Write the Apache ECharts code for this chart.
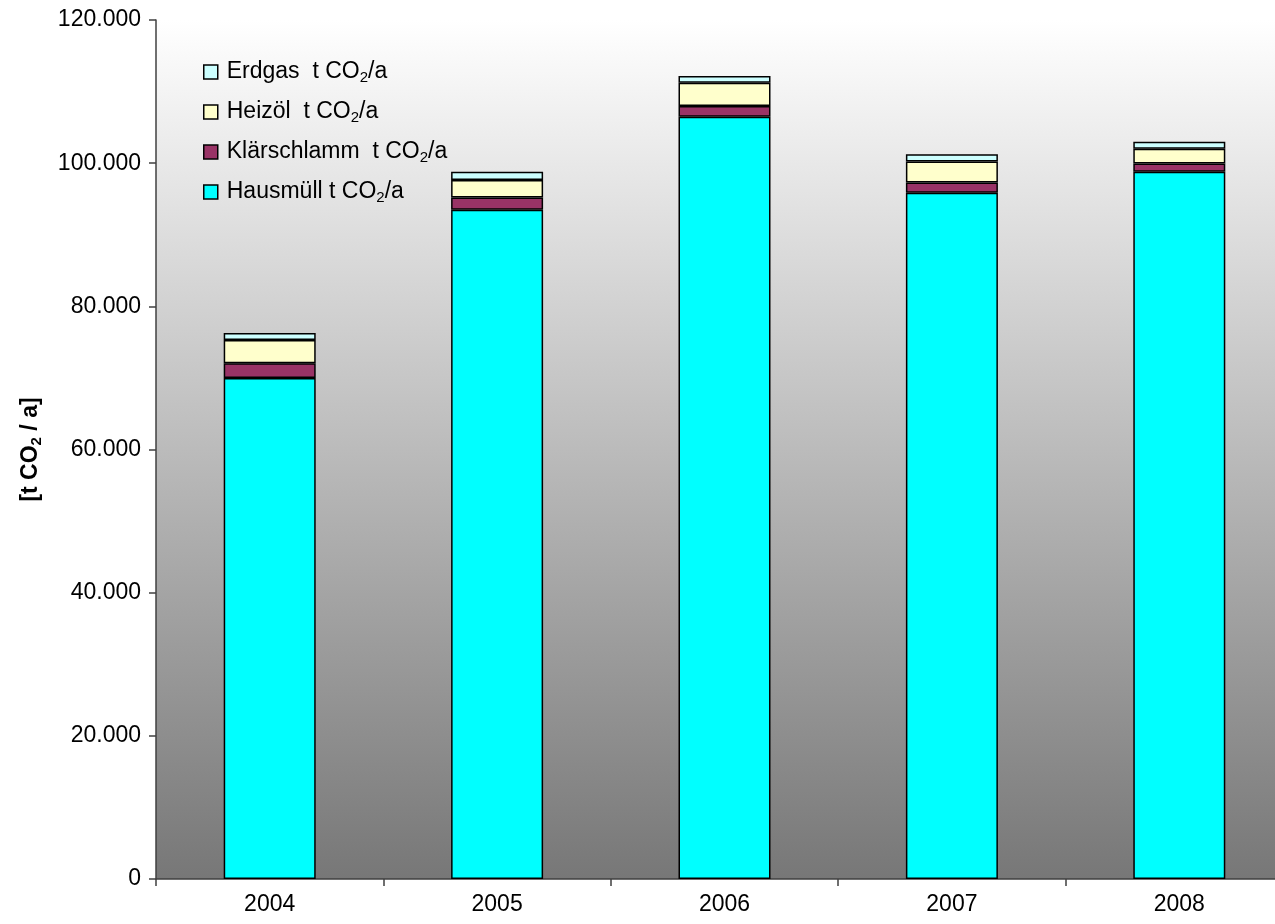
<!DOCTYPE html>
<html>
<head>
<meta charset="utf-8">
<script src="https://cdn.jsdelivr.net/npm/echarts@6/dist/echarts.min.js"></script>
<style>
  html, body { margin: 0; padding: 0; background: #ffffff; }
  #chart { width: 1275px; height: 924px; }
</style>
</head>
<body>
<div id="chart"></div>
<script>
// Jahre
const years = ['2004', '2005', '2006', '2007', '2008'];

// CO2-Emissionen je Energieträger [t CO2/a]
const hausmuell    = [70000, 93500, 106500, 95850, 98800];
const klaerschlamm = [2050, 1720, 1500, 1450, 1160];
const heizoel      = [3250, 2420, 3250, 2930, 2050];
const erdgas       = [980, 1160, 940, 1030, 980];

// Achsenbeschriftung
const yTicks = [0, 20000, 40000, 60000, 80000, 100000, 120000];

const FONT = 'Liberation Sans, Arial, sans-serif';

function fmtThousands(v) {
  return String(v).replace(/\B(?=(\d{3})+(?!\d))/g, '.');
}

const seriesDefs = [
  { name: 'Hausmüll',     label: 'Hausmüll t CO',      data: hausmuell,    color: '#00FFFF' },
  { name: 'Klärschlamm',  label: 'Klärschlamm  t CO',  data: klaerschlamm, color: '#993366' },
  { name: 'Heizöl',       label: 'Heizöl  t CO',       data: heizoel,      color: '#FFFFCC' },
  { name: 'Erdgas',       label: 'Erdgas  t CO',       data: erdgas,       color: '#CCFFFF' }
];

const chart = echarts.init(document.getElementById('chart'), null, { renderer: 'canvas' });

const option = {
  backgroundColor: '#ffffff',
  animation: false,
  grid: {
    left: 156,
    top: 20,
    right: -18,
    bottom: 45,
    containLabel: false,
    outerBoundsMode: 'none',
    show: true,
    borderWidth: 0,
    backgroundColor: new echarts.graphic.LinearGradient(0, 0, 0, 1, [
      { offset: 0, color: '#ffffff' },
      { offset: 1, color: '#777777' }
    ])
  },
  legend: {
    orient: 'vertical',
    left: 203,
    top: 60,
    padding: 0,
    itemGap: 15,
    itemWidth: 14,
    itemHeight: 14,
    icon: 'rect',
    itemStyle: { borderColor: '#000000', borderWidth: 1.5 },
    data: ['Erdgas', 'Heizöl', 'Klärschlamm', 'Hausmüll'],
    formatter: function (name) {
      const d = seriesDefs.find(s => s.name === name);
      return '{n|' + d.label + '}{s|2}{n|/a}';
    },
    textStyle: {
      padding: [0, 0, 0, 4],
      rich: {
        n: { fontFamily: FONT, fontSize: 23, color: '#000000', lineHeight: 26 },
        s: { fontFamily: FONT, fontSize: 15, color: '#000000', lineHeight: 26, verticalAlign: 'bottom', padding: [10, 0, 0, 0] }
      }
    }
  },
  xAxis: {
    type: 'category',
    data: years,
    axisLine: { show: true, lineStyle: { color: '#404040', width: 1.5 } },
    axisTick: { show: true, length: 7, lineStyle: { color: '#404040', width: 1.5 } },
    axisLabel: { fontFamily: FONT, fontSize: 23, color: '#000000', margin: 14 }
  },
  yAxis: {
    type: 'value',
    min: yTicks[0],
    max: yTicks[yTicks.length - 1],
    interval: yTicks[1] - yTicks[0],
    name: '{n|[t CO}{s|2}{n| / a]}',
    nameLocation: 'middle',
    nameGap: 112,
    nameRotate: 90,
    nameTextStyle: {
      rich: {
        n: { fontFamily: FONT, fontSize: 23, fontWeight: 'bold', color: '#000000', lineHeight: 26 },
        s: { fontFamily: FONT, fontSize: 15, fontWeight: 'bold', color: '#000000', lineHeight: 26, verticalAlign: 'bottom', padding: [10, 0, 0, 0] }
      }
    },
    axisLine: { show: true, lineStyle: { color: '#404040', width: 1.5 } },
    axisTick: { show: true, length: 7, lineStyle: { color: '#404040', width: 1.5 } },
    axisLabel: {
      fontFamily: FONT, fontSize: 23, color: '#000000', margin: 15,
      formatter: v => fmtThousands(v)
    },
    splitLine: {
      show: true,
      lineStyle: {
        color: ['#000000', '#000000', '#000000', '#000000', '#000000', '#000000', '#808080'],
        width: [1, 1, 1, 1, 1, 1, 2]
      }
    }
  },
  series: seriesDefs.map(d => ({
    name: d.name,
    type: 'bar',
    stack: 'co2',
    barWidth: 92,
    data: d.data,
    itemStyle: { color: d.color, borderColor: '#000000', borderWidth: 1.5 },
    emphasis: { disabled: true }
  }))
};

chart.setOption(option);
</script>
</body>
</html>
